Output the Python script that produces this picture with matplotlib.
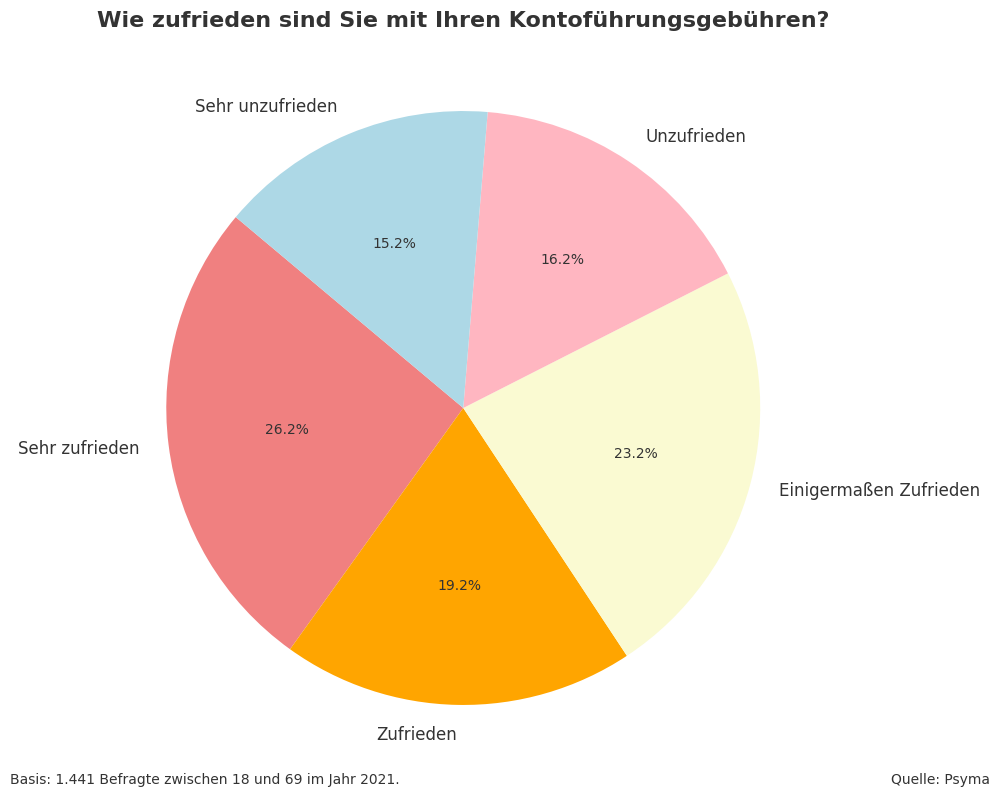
import matplotlib
matplotlib.use("Agg")
import matplotlib.pyplot as plt

# Daten
kategorien = ['Sehr zufrieden', 'Zufrieden', 'Einigermaßen Zufrieden',
              'Unzufrieden', 'Sehr unzufrieden']
anteile = [26.2, 19.2, 23.2, 16.2, 15.2]
farben = ['lightcoral', 'orange', 'lightgoldenrodyellow', 'lightpink', 'lightblue']

textfarbe = '#333333'

fig = plt.figure(figsize=(10, 8), dpi=100)
ax = fig.add_axes([0.092, 0.026, 0.7425, 0.928])

wedges, texts, autotexts = ax.pie(anteile, labels=kategorien, colors=farben,
                                  autopct='%1.1f%%', startangle=140,
                                  textprops={'color': textfarbe})
for t in texts:
    t.set_fontsize(12)
for t in autotexts:
    t.set_fontsize(10)
ax.set_aspect('equal')

fig.text(0.463, 0.974, 'Wie zufrieden sind Sie mit Ihren Kontoführungsgebühren?',
         ha='center', va='center', fontsize=16, fontweight='bold', color=textfarbe)
fig.text(0.01, 0.025, 'Basis: 1.441 Befragte zwischen 18 und 69 im Jahr 2021.',
         ha='left', va='center', fontsize=10, color=textfarbe)
fig.text(0.99, 0.025, 'Quelle: Psyma', ha='right', va='center',
         fontsize=10, color=textfarbe)

fig.savefig('out.png', dpi=100)
